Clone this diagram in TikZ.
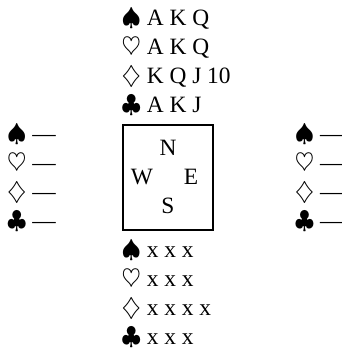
\documentclass[tikz,border=0pt]{standalone}
\usepackage{fontspec}
\setmainfont{Liberation Serif}
\begin{document}
\begin{tikzpicture}[x=1pt,y=-1pt,
  handline/.style={anchor=base west, inner sep=0pt, font=\fontsize{23.4}{29.3}\selectfont},
  seat/.style={anchor=base, inner sep=0pt, font=\fontsize{23.4}{29.3}\selectfont},
  table/.style={draw, line width=2.2pt, minimum width=90.6pt, minimum height=105pt, inner sep=0pt}]
\useasboundingbox (0,0) rectangle (342,351);
% North
\node[handline] (n1) at (121.4,25) {$\spadesuit$ A K Q};
\node[handline] (n2) at (121.4,54.3) {$\heartsuit$ A K Q};
\node[handline] (n3) at (121.4,83.6) {$\diamondsuit$ K Q J 10};
\node[handline] (n4) at (121.4,112.9) {$\clubsuit$ A K J};
% West
\node[handline] (w1) at (7,141) {$\spadesuit$ —};
\node[handline] (w2) at (7,170.3) {$\heartsuit$ —};
\node[handline] (w3) at (7,199.6) {$\diamondsuit$ —};
\node[handline] (w4) at (7,228.9) {$\clubsuit$ —};
% East
\node[handline] (e1) at (294.7,141) {$\spadesuit$ —};
\node[handline] (e2) at (294.7,170.3) {$\heartsuit$ —};
\node[handline] (e3) at (294.7,199.6) {$\diamondsuit$ —};
\node[handline] (e4) at (294.7,228.9) {$\clubsuit$ —};
% Table
\node[table] (tbl) at (168,177.5) {};
\node[seat] (sN) at (168,155) {N};
\node[seat] (sW) at (142,184) {W};
\node[seat] (sE) at (191,184) {E};
\node[seat] (sS) at (168,213) {S};
% South
\node[handline] (s1) at (121.4,257) {$\spadesuit$ x x x};
\node[handline] (s2) at (121.4,286.3) {$\heartsuit$ x x x};
\node[handline] (s3) at (121.4,315.6) {$\diamondsuit$ x x x x};
\node[handline] (s4) at (121.4,344.9) {$\clubsuit$ x x x};
\end{tikzpicture}
\end{document}
